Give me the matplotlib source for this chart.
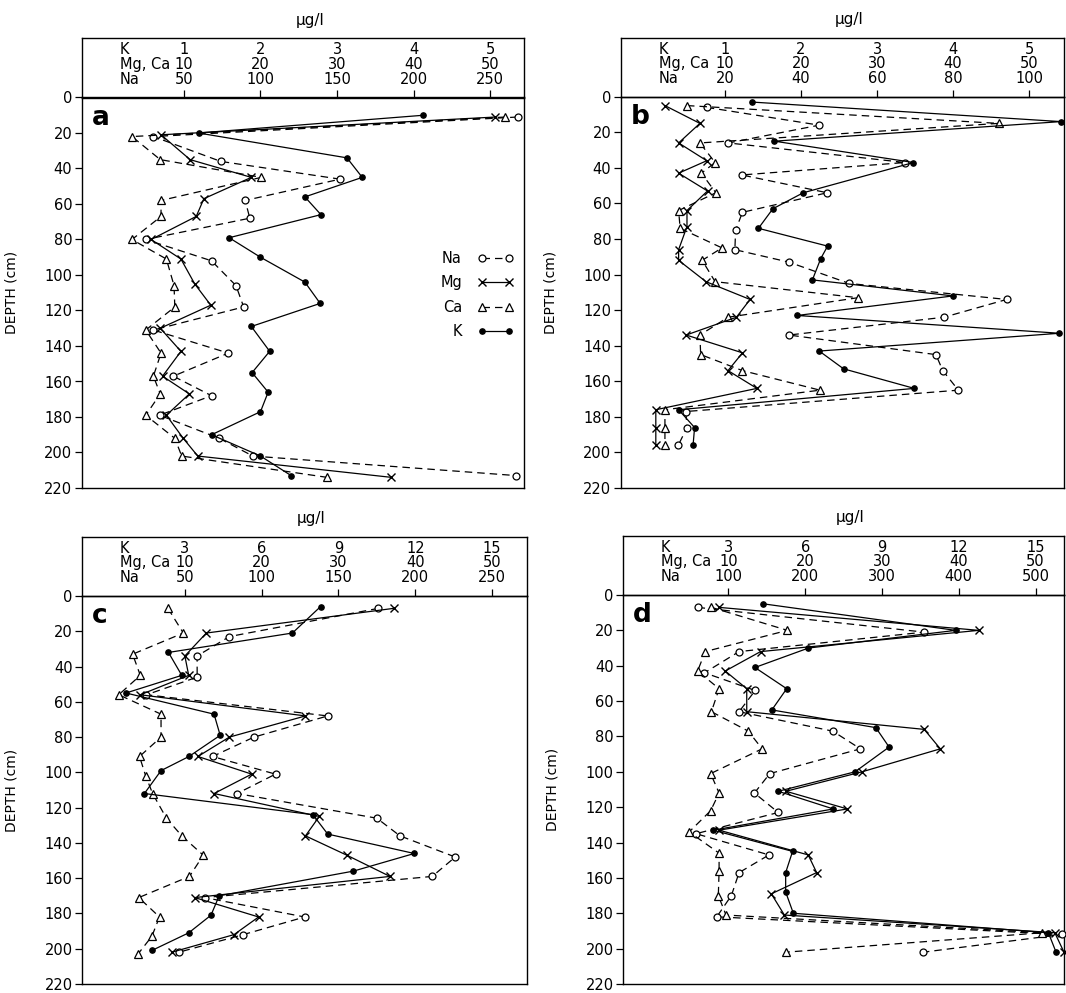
import matplotlib
matplotlib.use('Agg')
import matplotlib.pyplot as plt

plt.rcParams['font.family'] = ['DejaVu Sans']

W, H = 1066, 993

# ---------------- tick labels ----------------
mg_ticks = [10, 20, 30, 40, 50]
k_ticks_ab = [1, 2, 3, 4, 5]
k_ticks_cd = [3, 6, 9, 12, 15]
na_ticks_a = [50, 100, 150, 200, 250]
na_ticks_b = [20, 40, 60, 80, 100]
na_ticks_c = [50, 100, 150, 200, 250]
na_ticks_d = [100, 200, 300, 400, 500]
depth_ticks = list(range(0, 221, 20))

# ---------------- panel a ----------------
a_na_depth = [11, 22, 36, 46, 58, 68, 80, 92, 106, 118, 131, 144, 157, 168, 179, 192, 202, 213]
a_na = [268, 30, 74, 152, 90, 93, 25, 68, 84, 89, 30, 79, 43, 68, 34, 73, 95, 267]
a_mg_depth = [11, 21, 35, 45, 57, 67, 80, 91, 105, 117, 130, 143, 157, 167, 179, 192, 202, 214]
a_mg = [50.7, 7.0, 10.8, 18.8, 12.6, 11.6, 5.7, 9.6, 11.4, 13.5, 6.9, 9.6, 7.2, 10.7, 7.7, 9.9, 11.8, 37.1]
a_ca_depth = [11, 22, 35, 45, 58, 67, 80, 91, 106, 118, 131, 144, 157, 167, 179, 192, 202, 214]
a_ca = [52.0, 3.2, 6.9, 20.1, 7.0, 7.0, 3.2, 7.7, 8.7, 8.8, 5.0, 7.0, 6.0, 6.9, 5.0, 8.8, 9.7, 28.7]
a_k_depth = [10, 20, 34, 45, 56, 66, 79, 90, 104, 116, 129, 143, 155, 166, 177, 190, 202, 213]
a_k = [4.13, 1.19, 3.13, 3.33, 2.58, 2.79, 1.59, 2.00, 2.58, 2.78, 1.88, 2.12, 1.89, 2.10, 2.00, 1.36, 2.00, 2.40]

# ---------------- panel b ----------------
b_na_depth = [6, 16, 26, 37, 44, 54, 65, 75, 86, 93, 105, 114, 124, 134, 145, 154, 165, 177, 186, 196]
b_na = [15.2, 44.8, 20.9, 67.4, 24.4, 46.9, 24.6, 22.8, 22.6, 36.8, 52.7, 94.1, 77.6, 36.8, 75.5, 77.3, 81.4, 9.7, 10.0, 7.7]
b_mg_depth = [5, 15, 26, 36, 43, 53, 64, 73, 86, 92, 104, 114, 124, 134, 144, 154, 164, 176, 186, 196]
b_mg = [2.1, 6.7, 3.9, 7.6, 3.9, 7.7, 5.0, 5.0, 3.9, 3.9, 7.5, 13.3, 11.5, 4.9, 12.3, 10.4, 14.2, 0.9, 0.9, 0.9]
b_ca_depth = [5, 15, 26, 37, 43, 54, 64, 74, 85, 92, 104, 113, 124, 134, 145, 154, 165, 176, 186, 196]
b_ca = [5.0, 46.0, 6.7, 8.7, 6.9, 8.8, 3.9, 4.1, 9.6, 7.0, 8.7, 27.5, 10.4, 6.7, 6.8, 12.3, 22.5, 2.1, 2.1, 2.1]
b_k_depth = [3, 14, 25, 37, 54, 63, 74, 84, 91, 103, 112, 123, 133, 143, 153, 164, 176, 186, 196]
b_k = [1.35, 5.42, 1.65, 3.48, 2.03, 1.63, 1.44, 2.35, 2.26, 2.15, 4.00, 1.95, 5.40, 2.24, 2.56, 3.49, 0.39, 0.60, 0.58]

# ---------------- panel c ----------------
c_na_depth = [7, 23, 34, 46, 56, 68, 80, 91, 101, 112, 126, 136, 148, 159, 171, 182, 192, 202]
c_na = [176, 79, 58, 58, 25, 143, 95, 68, 109, 84, 175, 190, 226, 211, 63, 128, 88, 46]
c_mg_depth = [7, 21, 34, 45, 56, 68, 80, 91, 101, 112, 125, 136, 147, 159, 171, 182, 192, 202]
c_mg = [37.2, 12.8, 10.0, 10.5, 4.2, 25.7, 15.8, 11.7, 18.7, 13.8, 27.5, 25.7, 31.1, 36.7, 11.3, 19.6, 16.4, 8.3]
c_ca_depth = [7, 21, 33, 45, 56, 67, 80, 91, 102, 112, 126, 136, 147, 159, 171, 182, 193, 203]
c_ca = [7.8, 9.8, 3.2, 4.2, 1.4, 6.9, 6.9, 4.1, 4.9, 5.8, 7.6, 9.6, 12.4, 10.6, 4.0, 6.7, 5.7, 3.9]
c_k_depth = [6, 21, 32, 45, 55, 67, 79, 91, 99, 112, 124, 135, 146, 156, 170, 181, 191, 201]
c_k = [8.3, 7.2, 2.36, 2.88, 0.70, 4.14, 4.38, 3.16, 2.07, 1.42, 8.0, 8.58, 11.96, 9.58, 4.34, 4.02, 3.15, 1.71]

# ---------------- panel d ----------------
d_na_depth = [7, 21, 32, 44, 54, 66, 77, 87, 101, 112, 123, 135, 147, 157, 170, 182, 192, 202]
d_na = [60, 355, 114, 69, 135, 114, 236, 272, 154, 134, 165, 58, 153, 114, 104, 85, 534, 354]
d_mg_depth = [7, 20, 32, 43, 53, 66, 76, 87, 100, 111, 121, 133, 147, 157, 169, 181, 191, 202]
d_mg = [8.8, 42.6, 14.2, 9.6, 12.4, 12.4, 35.5, 37.6, 27.4, 17.5, 25.5, 8.8, 20.4, 21.5, 15.6, 17.3, 52.5, 53.7]
d_ca_depth = [7, 20, 32, 43, 53, 66, 77, 87, 101, 112, 122, 134, 146, 156, 170, 181, 191, 202]
d_ca = [7.8, 17.7, 7.0, 6.0, 8.8, 7.8, 12.6, 14.4, 7.7, 8.8, 7.7, 4.9, 8.8, 8.8, 8.7, 9.7, 50.9, 17.5]
d_k_depth = [5, 20, 30, 41, 53, 65, 75, 86, 100, 111, 121, 133, 145, 157, 168, 180, 191, 202]
d_k = [4.37, 11.88, 6.13, 4.04, 5.28, 4.70, 8.76, 9.28, 7.95, 4.95, 7.10, 2.41, 5.51, 5.24, 5.24, 5.54, 15.5, 15.8]

panels = [
    dict(letter='a', left=82, right=524, htop=38, top=97.5, bottom=488, xlim=(-3.33, 54.44),
         k_ticks=k_ticks_ab, na_ticks=na_ticks_a,
         na=(a_na_depth, a_na), mg=(a_mg_depth, a_mg), ca=(a_ca_depth, a_ca), k=(a_k_depth, a_k)),
    dict(letter='b', left=621, right=1064, htop=37.7, top=96.7, bottom=488, xlim=(-3.68, 54.6),
         k_ticks=k_ticks_ab, na_ticks=na_ticks_b,
         na=(b_na_depth, b_na), mg=(b_mg_depth, b_mg), ca=(b_ca_depth, b_ca), k=(b_k_depth, b_k)),
    dict(letter='c', left=82.3, right=526.7, htop=536.7, top=596, bottom=984, xlim=(-3.35, 54.5),
         k_ticks=k_ticks_cd, na_ticks=na_ticks_c,
         na=(c_na_depth, c_na), mg=(c_mg_depth, c_mg), ca=(c_ca_depth, c_ca), k=(c_k_depth, c_k)),
    dict(letter='d', left=623.3, right=1064, htop=535.7, top=595, bottom=984, xlim=(-3.67, 53.7),
         k_ticks=k_ticks_cd, na_ticks=na_ticks_d,
         na=(d_na_depth, d_na), mg=(d_mg_depth, d_mg), ca=(d_ca_depth, d_ca), k=(d_k_depth, d_k)),
]

fig = plt.figure(figsize=(W / 100, H / 100), dpi=100)
fig.patch.set_facecolor('white')

LW = 0.9
FS = 10.5

for p in panels:
    ax = fig.add_axes([p['left'] / W, 1 - p['bottom'] / H,
                       (p['right'] - p['left']) / W, (p['bottom'] - p['top']) / H])
    hx = fig.add_axes([p['left'] / W, 1 - p['top'] / H,
                       (p['right'] - p['left']) / W, (p['top'] - p['htop']) / H])
    hx.set_facecolor('none')

    kf = mg_ticks[0] / p['k_ticks'][0]
    nf = mg_ticks[0] / p['na_ticks'][0]

    nd, nv = p['na']
    ax.plot([v * nf for v in nv], nd, color='k', lw=LW, dashes=(6, 4), marker='o',
            ms=5, mfc='white', mec='k', mew=0.9, label='Na', clip_on=False, zorder=3)
    md, mv = p['mg']
    ax.plot(mv, md, color='k', lw=LW, ls='-', marker='x', ms=5.5, mew=1.0,
            label='Mg', clip_on=False, zorder=4)
    cd, cv = p['ca']
    ax.plot(cv, cd, color='k', lw=LW, dashes=(6, 4), marker='^', ms=5.5,
            mfc='white', mec='k', mew=0.9, label='Ca', clip_on=False, zorder=3)
    kd, kv = p['k']
    ax.plot([v * kf for v in kv], kd, color='k', lw=LW, ls='-', marker='o', ms=3.8,
            mfc='k', mec='k', label='K', clip_on=False, zorder=5)

    ax.set_xlim(*p['xlim'])
    ax.set_ylim(220, 0)
    ax.set_yticks(depth_ticks)
    ax.set_yticklabels([str(t) for t in depth_ticks], fontsize=FS)
    ax.set_xticks(mg_ticks)
    ax.tick_params(axis='x', top=True, bottom=False, labeltop=False, labelbottom=False,
                   direction='out', length=5, width=0.9)
    ax.tick_params(axis='y', left=True, right=False, direction='out', length=5, width=0.9, pad=2)
    for s in ax.spines.values():
        s.set_linewidth(1.0)

    ax.text(0.022, 0.93, p['letter'], transform=ax.transAxes, fontsize=19,
            fontweight='bold', ha='left', va='baseline')
    ax.text(-0.160, 0.5, 'DEPTH (cm)', transform=ax.transAxes, rotation=90,
            ha='center', va='center', fontsize=10)

    # header
    hx.set_xlim(*p['xlim'])
    hx.set_ylim(0, 1)
    hx.set_xticks([])
    hx.set_yticks([])
    for s in hx.spines.values():
        s.set_linewidth(1.0)
    rows = [0.80, 0.56, 0.31]
    hx.text(0.085, rows[0], 'K', transform=hx.transAxes, ha='left', va='center', fontsize=FS)
    hx.text(0.085, rows[1], 'Mg, Ca', transform=hx.transAxes, ha='left', va='center', fontsize=FS)
    hx.text(0.085, rows[2], 'Na', transform=hx.transAxes, ha='left', va='center', fontsize=FS)
    for t, kt, nt in zip(mg_ticks, p['k_ticks'], p['na_ticks']):
        hx.text(t, rows[0], str(kt), ha='center', va='center', fontsize=FS)
        hx.text(t, rows[1], str(t), ha='center', va='center', fontsize=FS)
        hx.text(t, rows[2], str(nt), ha='center', va='center', fontsize=FS)
    hx.text(0.515, 1.30, 'μg/l', transform=hx.transAxes, ha='center', va='center', fontsize=11)

    if p['letter'] == 'a':
        ax.legend(loc='center right', bbox_to_anchor=(0.975, 0.494), frameon=False,
                  markerfirst=False, numpoints=2, handlelength=2.4, handletextpad=1.1,
                  labelspacing=0.65, fontsize=FS, borderpad=0, borderaxespad=0)

fig.savefig('out.png', dpi=100, facecolor='white')
